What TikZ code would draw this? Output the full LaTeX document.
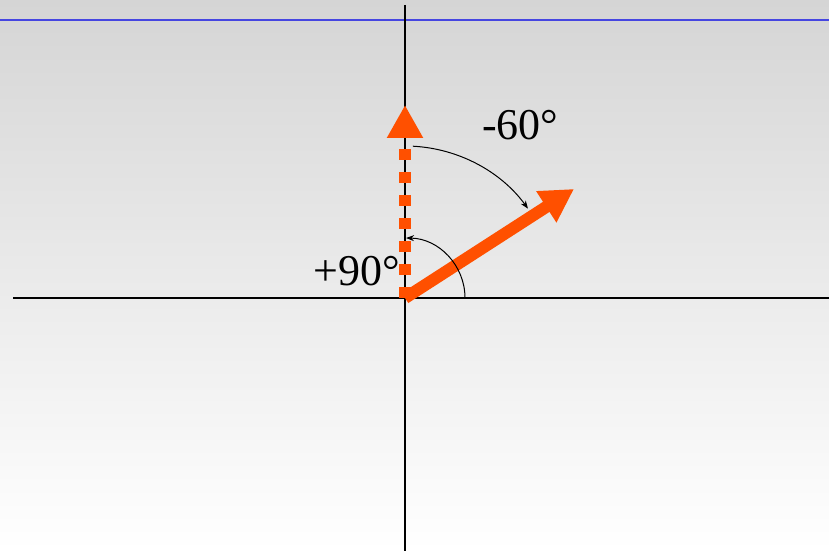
\documentclass[tikz,border=0pt]{standalone}
\usepackage{fontspec}
\setmainfont{Liberation Serif}
\usetikzlibrary{arrows.meta}
\definecolor{bgtop}{RGB}{213,213,213}
\definecolor{vecorange}{RGB}{255,80,0}
\definecolor{refblue}{RGB}{70,70,225}
\tikzset{
  axis/.style={draw=black, line width=1.4pt},
  vecsolid/.style={draw=vecorange, line width=12pt, -{Triangle[length=33pt,width=35pt]}},
  vecdash/.style={draw=vecorange, line width=12pt, dash pattern=on 11pt off 12pt, -{Triangle[length=33pt,width=34pt]}},
  anglearc/.style={draw=black, line width=1pt, -{Stealth[length=8pt,width=6pt]}},
  lbl/.style={font=\fontsize{44}{48}\selectfont, inner sep=0pt, anchor=base west},
}
\begin{document}
\begin{tikzpicture}[x=1pt,y=1pt]
\useasboundingbox (0,0) rectangle (829,551);
\shade[top color=bgtop, bottom color=white] (0,0) rectangle (829,551);
\draw[refblue, line width=1.6pt] (0,531) -- (829,531);
% axes
\coordinate (O) at (405,253);
\coordinate (vtop) at (405,546);
\coordinate (vbot) at (405,0);
\coordinate (hleft) at (13,253);
\coordinate (hright) at (829,253);
\draw[axis] (vtop) -- (vbot);
\draw[axis] (hleft) -- (hright);
% vectors
\coordinate (tipA) at (574,362);
\coordinate (tipB) at (405,446);
\draw[vecdash] (O) -- (tipB);
\draw[vecsolid] (O) -- (tipA);
% angle arcs
\coordinate (arcAs) at (465,253);
\draw[anglearc] (arcAs) arc[start angle=0, end angle=89, radius=60];
\draw[anglearc] (O) ++(87:152) arc[start angle=87, end angle=36, radius=152];
% labels
\node[lbl] (l90) at (313,265) {+90°};
\node[lbl] (l60) at (482,411) {-60°};
\end{tikzpicture}
\end{document}
